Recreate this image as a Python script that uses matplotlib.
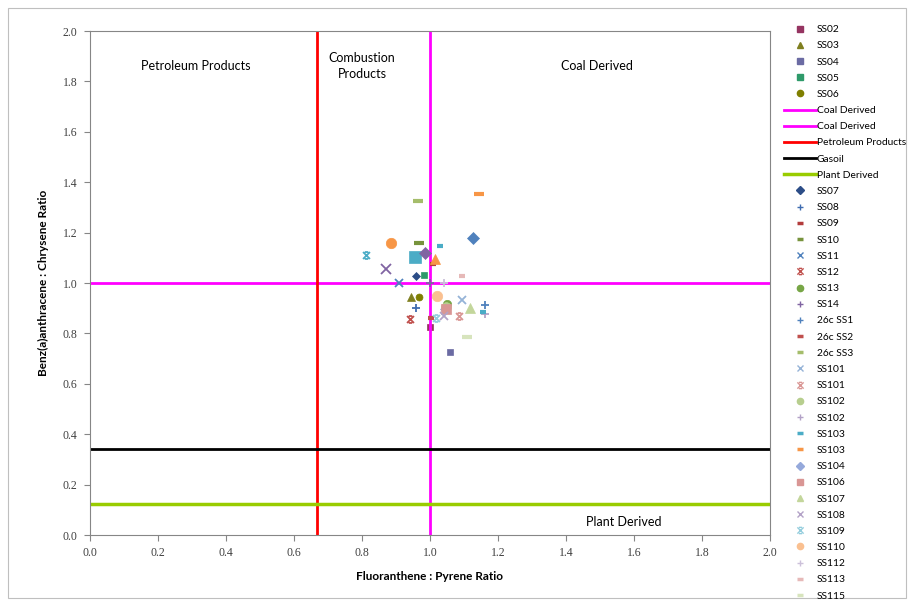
import matplotlib
matplotlib.use('Agg')
import matplotlib.pyplot as plt
from matplotlib.path import Path
from matplotlib.patches import Rectangle

# samples shown in the legend
samples = ['SS02', 'SS03', 'SS04', 'SS05', 'SS06',
           'SS07', 'SS08', 'SS09', 'SS10', 'SS11', 'SS12', 'SS13', 'SS14',
           '26c SS1', '26c SS2', '26c SS3',
           'SS101', 'SS101', 'SS102', 'SS102', 'SS103', 'SS103', 'SS104',
           'SS106', 'SS107', 'SS108', 'SS109', 'SS110', 'SS112', 'SS113', 'SS115']
fl_py = [1.000, 0.944, 1.059, 0.982, 0.968,
         0.959, 0.958, 1.008, 0.968, 0.910, 0.941, 1.051, 1.000,
         1.162, 1.002, 0.964,
         1.093, 1.085, 1.046, 1.162, 1.029, 1.145, 1.045,
         1.046, 1.118, 1.041, 1.018, 1.022, 1.042, 1.093, 1.108]
baa_chr = [0.825, 0.946, 0.727, 1.032, 0.943,
           1.028, 0.900, 1.074, 1.160, 0.999, 0.857, 0.915, 0.999,
           0.913, 0.862, 1.326,
           0.933, 0.869, 0.905, 0.876, 1.147, 1.352, 0.895,
           0.897, 0.900, 0.869, 0.860, 0.950, 0.999, 1.028, 0.787]

# series that fall off the bottom of the legend
extra_fl_py = [1.127, 0.957, 1.015, 0.870, 0.811, 0.884, 0.984, 1.155]
extra_baa_chr = [1.180, 1.105, 1.095, 1.056, 1.111, 1.160, 1.120, 0.884]

# source boundaries
coal_x = 1.0
coal_y = 1.0
petroleum_x = 0.667
gasoil_y = 0.34
plant_y = 0.125

star = Path([(-1, -1), (1, 1), (-1, 1), (1, -1), (-0.5, 1), (0.5, 1), (-0.5, -1), (0.5, -1)],
            [Path.MOVETO, Path.LINETO] * 4)

# marker, colour, size
styles = [('s', '#953461', 5), ('^', '#7F7F1F', 5.5), ('s', '#6B6BA3', 5), ('s', '#2E9A6A', 5), ('o', '#7F7F00', 5),
          ('D', '#2C4D87', 4.5), ('+', '#3F6CB0', 6), ('sd', '#B33C3C', 4), ('_', '#77933C', 7),
          ('x', '#4F81BD', 6), (star, '#C0504D', 5), ('o', '#77A646', 6), ('+', '#8064A2', 6),
          ('+', '#4F81BD', 6), ('sd', '#C0504D', 4), ('_', '#A5BD6B', 7),
          ('x', '#95B3D7', 6), (star, '#D99694', 5), ('o', '#B7CE8E', 7), ('+', '#B3A2C7', 6),
          ('sd', '#4BACC6', 4), ('_', '#F79646', 7), ('D', '#95A9DB', 5),
          ('s', '#D99694', 7.5), ('^', '#C3D69B', 6.5), ('x', '#B3A2C7', 6), (star, '#93CDDD', 5),
          ('o', '#FAC090', 7.5), ('+', '#CCC1DA', 6), ('sd', '#E6B9B8', 4), ('_', '#D7E4BD', 7)]
extra_styles = [('D', '#4F81BD', 6), ('s', '#4BACC6', 8), ('^', '#F79646', 7), ('x', '#8064A2', 7),
                (star, '#4BACC6', 5), ('o', '#F79646', 7.5), ('D', '#8064A2', 6), ('_', '#4BACC6', 5)]

plt.rcParams['font.family'] = ['Lato', 'DejaVu Sans']

fig = plt.figure(figsize=(9.09, 6.03), dpi=100)
ax = fig.add_axes([90 / 909, 1 - 535 / 603, 680 / 909, 504 / 603])


def draw_point(x, y, style, label):
    m, c, s = style
    if m in ('+', 'x', '_', 'sd') or isinstance(m, Path):
        mk = '_' if m == 'sd' else m
        mew = 3 if mk == '_' else 1.3
        ax.plot([x], [y], linestyle='none', marker=mk, markersize=s, markeredgecolor=c,
                markerfacecolor='none', markeredgewidth=mew, color=c, label=label)
    else:
        ax.plot([x], [y], linestyle='none', marker=m, markersize=s, markerfacecolor=c,
                markeredgecolor=c, markeredgewidth=0.5, label=label)


for i in range(5):
    draw_point(fl_py[i], baa_chr[i], styles[i], samples[i])

ax.axvline(coal_x, color='#FF00FF', lw=2, label='Coal Derived')
ax.axhline(coal_y, color='#FF00FF', lw=2, label='Coal Derived')
ax.axvline(petroleum_x, color='#FF0000', lw=2, label='Petroleum Products')
ax.axhline(gasoil_y, color='black', lw=2, label='Gasoil')
ax.axhline(plant_y, color='#99CC00', lw=2.5, label='Plant Derived')

for i in range(5, len(samples)):
    draw_point(fl_py[i], baa_chr[i], styles[i], samples[i])
for i in range(len(extra_fl_py)):
    draw_point(extra_fl_py[i], extra_baa_chr[i], extra_styles[i], '_nolegend_')

ax.set_xlim(0, 2)
ax.set_ylim(0, 2)
ax.set_xticks([i / 5 for i in range(11)])
ax.set_yticks([i / 5 for i in range(11)])
ax.xaxis.set_major_formatter(matplotlib.ticker.FormatStrFormatter('%.1f'))
ax.yaxis.set_major_formatter(matplotlib.ticker.FormatStrFormatter('%.1f'))
for lab in ax.get_xticklabels() + ax.get_yticklabels():
    lab.set_fontfamily('Liberation Serif')
    lab.set_fontsize(8.5)
    lab.set_color('#404040')
ax.tick_params(length=4, color='#868686', width=0.8, pad=5)
for sp in ax.spines.values():
    sp.set_color('#868686')
    sp.set_linewidth(0.8)

ax.set_xlabel('Fluoranthene : Pyrene Ratio', fontsize=8.5, fontweight='bold', labelpad=8)
ax.set_ylabel('Benz(a)anthracene : Chrysene Ratio', fontsize=8.5, fontweight='bold', labelpad=10)

ax.text(0.31, 1.86, 'Petroleum Products', ha='center', va='center', fontsize=9)
ax.text(0.80, 1.86, 'Combustion\nProducts', ha='center', va='center', fontsize=9, linespacing=1.4)
ax.text(1.49, 1.86, 'Coal Derived', ha='center', va='center', fontsize=9)
ax.text(1.57, 0.05, 'Plant Derived', ha='center', va='center', fontsize=9)

leg = fig.legend(*ax.get_legend_handles_labels(), loc='upper left', bbox_to_anchor=(784 / 909, 1 - 25 / 603),
                 frameon=False, fontsize=7.4, labelspacing=0.68, handlelength=3.1, handletextpad=0.1,
                 borderaxespad=0, borderpad=0)
for h in leg.legend_handles:
    if h.get_marker() in ('_',):
        h.set_markersize(5)
        h.set_markeredgewidth(2.5)
    elif h.get_marker() not in ('None', None, ''):
        h.set_markersize(4.5)
        h.set_markeredgewidth(1)

fig.patches.append(Rectangle((8 / 909, 1 - 598 / 603), 898 / 909, 590 / 603, transform=fig.transFigure,
                             fill=False, edgecolor='#BFBFBF', lw=0.8))

fig.savefig('out.png', dpi=100)
